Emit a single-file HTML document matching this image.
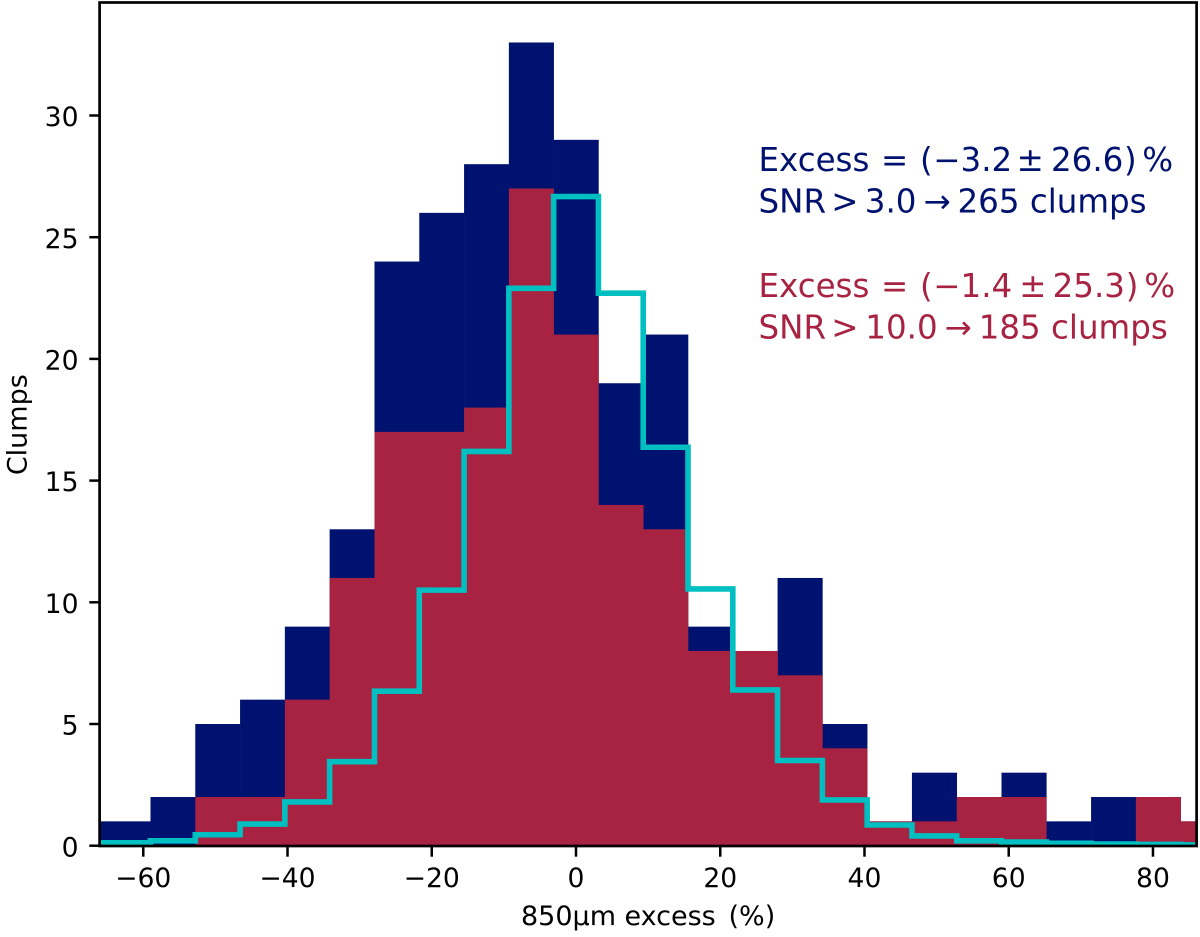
<!DOCTYPE html>
<html><head><meta charset="utf-8"><title>850µm excess histogram</title>
<style>
html,body{margin:0;padding:0;background:#fff;width:1200px;height:937px;overflow:hidden}
svg{display:block}
text{font-family:"DejaVu Sans","Liberation Sans",sans-serif;fill:#000}
</style></head>
<body>
<svg id="chart" xmlns="http://www.w3.org/2000/svg" width="1200" height="937" viewBox="0 0 1200 937">
<defs><clipPath id="plot-clip"><rect x="100" y="2" width="1097" height="844"/></clipPath></defs>
<g id="plot" clip-path="url(#plot-clip)"></g>
<g id="axes"></g>
<text y="171" font-size="32.5" style="fill:#00126f"><tspan x="758.5">Excess</tspan> <tspan x="881">=</tspan> <tspan x="920">(</tspan><tspan x="933.3">−3.2</tspan> <tspan x="1016.6">±</tspan> <tspan x="1051">26.6</tspan><tspan x="1124">)</tspan> <tspan x="1142.2">%</tspan></text>
<text y="212.3" font-size="32.5" style="fill:#00126f"><tspan x="758.5">SNR</tspan> <tspan x="831.2">&gt;</tspan> <tspan x="864.8">3.0</tspan> <tspan x="923.5">→</tspan> <tspan x="957.5">265 clumps</tspan></text>
<text y="296.8" font-size="32.5" style="fill:#a82342"><tspan x="758.5">Excess</tspan> <tspan x="881">=</tspan> <tspan x="920">(</tspan><tspan x="933.3">−1.4</tspan> <tspan x="1019.3">±</tspan> <tspan x="1052.6">25.3</tspan><tspan x="1125.8">)</tspan> <tspan x="1144.2">%</tspan></text>
<text y="338.3" font-size="32.5" style="fill:#a82342"><tspan x="758.5">SNR</tspan> <tspan x="831.2">&gt;</tspan> <tspan x="865.3">10.0</tspan> <tspan x="944.5">→</tspan> <tspan x="978.7">185 clumps</tspan></text>
<text y="925" font-size="27"><tspan x="521">850µm</tspan> <tspan x="624.5">excess</tspan> <tspan x="728.5">(%)</tspan></text>
<text transform="translate(26.5,424.7) rotate(-90)" font-size="27" text-anchor="middle">Clumps</text>
</svg>
<script>
const binEdges = [-71.42,-65.21,-59.0,-52.79,-46.58,-40.37,-34.16,-27.94,-21.73,-15.52,-9.31,-3.1,3.11,9.32,15.53,21.74,27.95,34.16,40.37,46.58,52.79,59.0,65.21,71.42,77.63,83.84,90.05];
const snr3Counts = [1,1,2,5,6,9,13,24,26,28,33,29,19,21,9,8,11,5,1,3,2,3,1,2,2,1];
const snr10Counts = [0,0,0,2,2,6,11,17,17,18,27,21,14,13,8,8,7,4,1,1,2,2,0,0,2,1];
const modelCounts = [0.12,0.12,0.2,0.45,0.89,1.8,3.45,6.35,10.5,16.2,22.9,26.67,22.7,16.37,10.55,6.4,3.5,1.88,0.85,0.4,0.2,0.15,0.1,0.07,0.05,0.03];
const xTicks = [-60,-40,-20,0,20,40,60,80];
const yTicks = [0,5,10,15,20,25,30];

const NS = 'http://www.w3.org/2000/svg';
const xScale = v => 576 + 7.212 * v;
const yScale = v => 845.7 - 24.34 * v;
const plot = document.getElementById('plot');
const axes = document.getElementById('axes');
const label = v => String(v).replace('-', '\u2212');

function drawBars(values, color, name) {
  values.forEach((v, i) => {
    if (v <= 0) return;
    const r = document.createElementNS(NS, 'rect');
    r.setAttribute('x', xScale(binEdges[i]));
    r.setAttribute('y', yScale(v));
    r.setAttribute('width', xScale(binEdges[i + 1]) - xScale(binEdges[i]) + 0.3);
    r.setAttribute('height', yScale(0) - yScale(v));
    r.setAttribute('fill', color);
    
    
    plot.appendChild(r);
  });
}
drawBars(snr3Counts, '#00126f', 'bar-snr-above-3');
drawBars(snr10Counts, '#a82342', 'bar-snr-above-10');

let d = '';
modelCounts.forEach((v, i) => {
  d += (i === 0 ? 'M' : 'L') + xScale(binEdges[i]) + ' ' + yScale(v) + 'L' + xScale(binEdges[i + 1]) + ' ' + yScale(v);
});
const line = document.createElementNS(NS, 'path');
line.setAttribute('d', d);
line.setAttribute('fill', 'none');
line.setAttribute('stroke', '#00bfc0');
line.setAttribute('stroke-width', '5.6');
line.setAttribute('stroke-linejoin', 'miter');


plot.appendChild(line);

xTicks.forEach(v => {
  const t = document.createElementNS(NS, 'line');
  t.setAttribute('x1', xScale(v));
  t.setAttribute('x2', xScale(v));
  t.setAttribute('y1', 846);
  t.setAttribute('y2', 856.7);
  t.setAttribute('stroke', '#000');
  t.setAttribute('stroke-width', '2.5');
  
  
  axes.appendChild(t);
  const s = document.createElementNS(NS, 'text');
  s.setAttribute('x', xScale(v));
  s.setAttribute('y', 887);
  s.setAttribute('font-size', '26.6');
  s.setAttribute('text-anchor', 'middle');
  
  
  s.textContent = label(v);
  axes.appendChild(s);
});
yTicks.forEach(v => {
  const t = document.createElementNS(NS, 'line');
  t.setAttribute('x1', 89.3);
  t.setAttribute('x2', 100);
  t.setAttribute('y1', yScale(v));
  t.setAttribute('y2', yScale(v));
  t.setAttribute('stroke', '#000');
  t.setAttribute('stroke-width', '2.5');
  
  
  axes.appendChild(t);
  const s = document.createElementNS(NS, 'text');
  s.setAttribute('x', 78.5);
  s.setAttribute('y', yScale(v) + 10.6);
  s.setAttribute('font-size', '26.6');
  s.setAttribute('text-anchor', 'end');
  
  
  s.textContent = label(v);
  axes.appendChild(s);
});
const frame = document.createElementNS(NS, 'rect');
frame.setAttribute('x', 99.6);
frame.setAttribute('y', 2.5);
frame.setAttribute('width', 1097);
frame.setAttribute('height', 843.5);
frame.setAttribute('fill', 'none');
frame.setAttribute('stroke', '#000');
frame.setAttribute('stroke-width', '2.7');


axes.appendChild(frame);
</script>
</body></html>
